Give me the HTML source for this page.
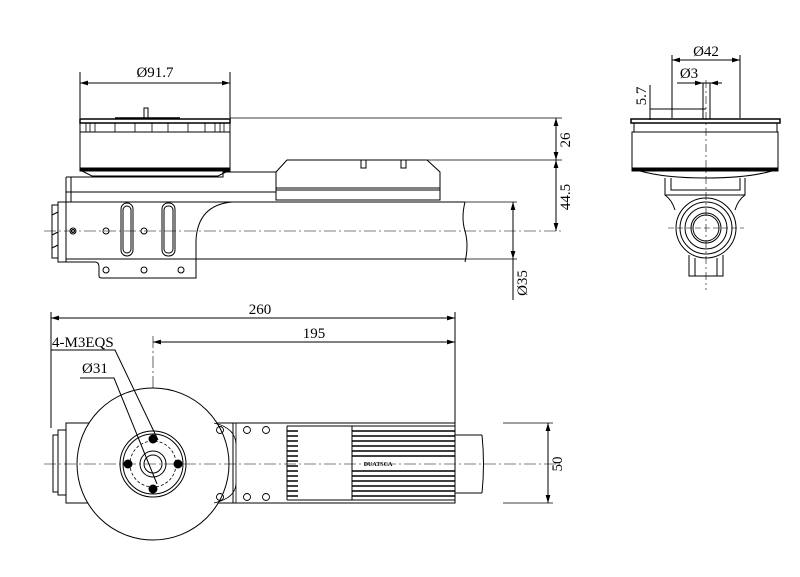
<!DOCTYPE html>
<html><head><meta charset="utf-8"><style>
html,body{margin:0;padding:0;background:#fff;}
svg{display:block}
text{font-family:"Liberation Serif",serif;font-size:15px;fill:#000}
</style></head><body>
<svg width="800" height="577" viewBox="0 0 800 577" xmlns="http://www.w3.org/2000/svg">
<defs>
<marker id="a" viewBox="0 0 10 6" refX="10" refY="3" markerWidth="8" markerHeight="5" orient="auto-start-reverse"><path d="M0,0L10,3L0,6z" fill="#000"/></marker>
</defs>
<g fill="none" stroke="#000" stroke-width="1">
<!-- SIDE VIEW -->
<line x1="80" y1="72" x2="80" y2="118"/><line x1="230" y1="72" x2="230" y2="118"/>
<line x1="80" y1="83" x2="230" y2="83" marker-start="url(#a)" marker-end="url(#a)"/>
<rect x="144" y="108" width="4" height="10"/>
<line x1="115" y1="118" x2="180" y2="118" stroke-width="1.5"/>
<rect x="80" y="119" width="150" height="4" stroke-width="1.5"/>
<rect x="80" y="123" width="150" height="9"/>
<g stroke-width="0.8"><line x1="86" y1="123" x2="86" y2="132"/><line x1="90" y1="123" x2="90" y2="132"/><line x1="95" y1="123" x2="95" y2="132"/><line x1="115" y1="123" x2="115" y2="132"/><line x1="135" y1="123" x2="135" y2="132"/><line x1="152" y1="123" x2="152" y2="132"/><line x1="168" y1="123" x2="168" y2="132"/><line x1="188" y1="123" x2="188" y2="132"/><line x1="205" y1="123" x2="205" y2="132"/><line x1="215" y1="123" x2="215" y2="132"/><line x1="220" y1="123" x2="220" y2="132"/><line x1="224" y1="123" x2="224" y2="132"/></g>
<rect x="80" y="132" width="150" height="38"/>
<rect x="80" y="168" width="150" height="3" fill="#000"/>
<path d="M82,171 L92,176 L218,176 L228,171"/>
<line x1="230" y1="118" x2="562" y2="118" stroke-width="0.8"/>
<path d="M66,177 H223 V172 H276 M66,177 V202 M71,177 V202 M66,192 H276 V200"/>
<path d="M287,160 L276,172 V200 H440 V172 L427,160 Z"/>
<path d="M361,160 V168 H366 V160 M401,160 V168 H406 V160"/>
<line x1="276" y1="188" x2="440" y2="188"/><line x1="276" y1="190" x2="440" y2="190"/>
<line x1="427" y1="160" x2="562" y2="160" stroke-width="0.8"/>
<path d="M66,202 H465 M66,259 H196"/>
<path d="M196,259 H465" />
<path d="M465,202 Q461,218 465,231 Q469,245 465,262"/>
<path d="M232,202 Q198,205 196,240 V264"/>
<path d="M66,259 V262 H95 Q99,262 99,267 V276 Q99,278 102,278 H196 V262"/>
<path d="M58,202 H66 V262 H58 Z M52,205 H58 V258 H52 Z"/>
<path d="M52,215 L58,212 M52,235 L58,232 M52,248 L58,245"/>
<rect x="121" y="203" width="12" height="53" rx="6"/><rect x="123" y="206" width="8" height="47" rx="4"/>
<rect x="162" y="203" width="13" height="53" rx="6"/><rect x="164" y="206" width="9" height="47" rx="4"/>
<circle cx="73" cy="231" r="3"/><circle cx="73" cy="231" r="1.5"/>
<circle cx="106" cy="231" r="3"/><circle cx="144" cy="231" r="3"/>
<circle cx="106" cy="270" r="3"/><circle cx="144" cy="270" r="3"/><circle cx="181" cy="270" r="3"/>
<line x1="44" y1="231" x2="562" y2="231" stroke-width="0.6" stroke-dasharray="12 3 2 3"/>
<line x1="465" y1="202" x2="517" y2="202" stroke-width="0.8"/>
<line x1="465" y1="259" x2="517" y2="259" stroke-width="0.8"/>
<line x1="556" y1="118" x2="556" y2="160" marker-start="url(#a)" marker-end="url(#a)"/>
<line x1="556" y1="160" x2="556" y2="231" marker-start="url(#a)" marker-end="url(#a)"/>
<line x1="513" y1="202" x2="513" y2="259" marker-start="url(#a)" marker-end="url(#a)"/>
<line x1="513" y1="259" x2="513" y2="300"/>
<!-- TOP VIEW -->
<line x1="51" y1="312" x2="51" y2="428"/><line x1="455" y1="312" x2="455" y2="423"/>
<line x1="51" y1="318" x2="455" y2="318" marker-start="url(#a)" marker-end="url(#a)"/>
<line x1="153" y1="336" x2="153" y2="540" stroke-width="0.6" stroke-dasharray="12 3 2 3"/>
<line x1="153" y1="342" x2="455" y2="342" marker-start="url(#a)" marker-end="url(#a)"/>
<path d="M66,423 H455 V503 H66 Z"/>
<path d="M66,430 H58 V495 H66 M58,435 H53 V492 H58"/>
<circle cx="153" cy="464" r="76" fill="#fff"/>
<path d="M51,350 H115 L158,440"/>
<path d="M80,378 H114 L157,484"/>
<path d="M214,423 Q236,428 236,445 M214,503 Q236,498 236,483 M236,423 V503" stroke-width="0.8"/>
<circle cx="153" cy="464" r="33"/><circle cx="153" cy="464" r="30"/>
<circle cx="153" cy="464" r="23" stroke-dasharray="3 2" stroke-width="0.8"/>
<circle cx="153" cy="464" r="13"/><circle cx="153" cy="464" r="9"/>
<g fill="#000"><circle cx="153" cy="439" r="4"/><circle cx="153" cy="489" r="4"/><circle cx="128" cy="464" r="4"/><circle cx="178" cy="464" r="4"/></g>
<line x1="44" y1="464" x2="560" y2="464" stroke-width="0.6" stroke-dasharray="12 3 2 3"/>
<g stroke-width="0.9">
<circle cx="220" cy="430" r="3.5"/><circle cx="220" cy="497" r="3.5"/>
<circle cx="247" cy="430" r="3.5"/><circle cx="266" cy="430" r="3.5"/>
<circle cx="247" cy="497" r="3.5"/><circle cx="266" cy="497" r="3.5"/>
</g>
<line x1="233" y1="423" x2="233" y2="503"/>
<path d="M287,426 H455 M287,500 H455 M287,426 V500 M352,426 V500"/>
<g stroke-width="1.6">
<path d="M287,431H298M287,436H298M287,441H298M287,446H298M287,451H298M287,456H298M287,461H298M287,466H298M287,471H298M287,476H298M287,481H298M287,486H298M287,491H298M287,496H298"/>
<path d="M352,431H455M352,436H455M352,441H455M352,446H455M352,451H455M352,456H455M352,471H455M352,476H455M352,481H455M352,486H455M352,491H455M352,496H455"/>
</g>
<path d="M455,435 H482 M455,493 H482 M482,435 Q485,464 482,493"/>
<line x1="503" y1="423" x2="553" y2="423" stroke-width="0.8"/><line x1="503" y1="503" x2="553" y2="503" stroke-width="0.8"/>
<line x1="548" y1="423" x2="548" y2="503" marker-start="url(#a)" marker-end="url(#a)"/>
<!-- RIGHT VIEW -->
<line x1="672" y1="55" x2="672" y2="118"/><line x1="740" y1="55" x2="740" y2="118"/>
<line x1="672" y1="60" x2="740" y2="60" marker-start="url(#a)" marker-end="url(#a)"/>
<path d="M677,83 H722"/><line x1="697" y1="83" x2="703" y2="83" marker-end="url(#a)"/><line x1="716" y1="83" x2="710" y2="83" marker-end="url(#a)"/>
<rect x="703" y="83" width="7" height="36"/>
<line x1="650" y1="109" x2="706" y2="109"/>
<line x1="650" y1="85" x2="650" y2="120"/>
<line x1="706" y1="80" x2="706" y2="290" stroke-width="0.6" stroke-dasharray="8 3 2 3"/>
<rect x="631" y="119" width="149" height="4" stroke-width="1.5"/>
<rect x="634" y="123" width="143" height="9"/>
<rect x="632" y="132" width="146" height="38"/>
<rect x="632" y="168" width="146" height="3" fill="#000"/>
<path d="M640,171 Q665,178 706,178 Q747,178 772,171"/>
<path d="M665,178 V195 H745 V178 M671,178 V190 H740 V178"/>
<path d="M665,195 Q672,200 675,210 M745,195 Q738,200 735,210"/>
<circle cx="706" cy="228" r="30"/><circle cx="706" cy="228" r="26"/>
<circle cx="706" cy="228" r="21"/><circle cx="706" cy="228" r="15"/><circle cx="706" cy="228" r="13"/>
<path d="M689,255 V276 H723 V255 M695,258 V276 M717,258 V276"/>
<line x1="668" y1="228" x2="744" y2="228" stroke-width="0.6" stroke-dasharray="6 3"/>
</g>
<text x="155" y="77" text-anchor="middle">Ø91.7</text>
<text transform="translate(570,140) rotate(-90)" text-anchor="middle">26</text>
<text transform="translate(570,197) rotate(-90)" text-anchor="middle">44.5</text>
<text transform="translate(527,283) rotate(-90)" text-anchor="middle">Ø35</text>
<text x="260" y="314" text-anchor="middle">260</text>
<text x="314" y="338" text-anchor="middle">195</text>
<text x="52" y="347">4-M3EQS</text>
<text x="82" y="373">Ø31</text>
<text transform="translate(562,464) rotate(-90)" text-anchor="middle">50</text>
<text x="378" y="466" text-anchor="middle" style="font-size:6px;font-weight:bold">DUATSCA</text>
<text x="706" y="56" text-anchor="middle">Ø42</text>
<text x="689" y="78" text-anchor="middle">Ø3</text>
<text transform="translate(646,96) rotate(-90)" text-anchor="middle">5.7</text>
</svg>
</body></html>
